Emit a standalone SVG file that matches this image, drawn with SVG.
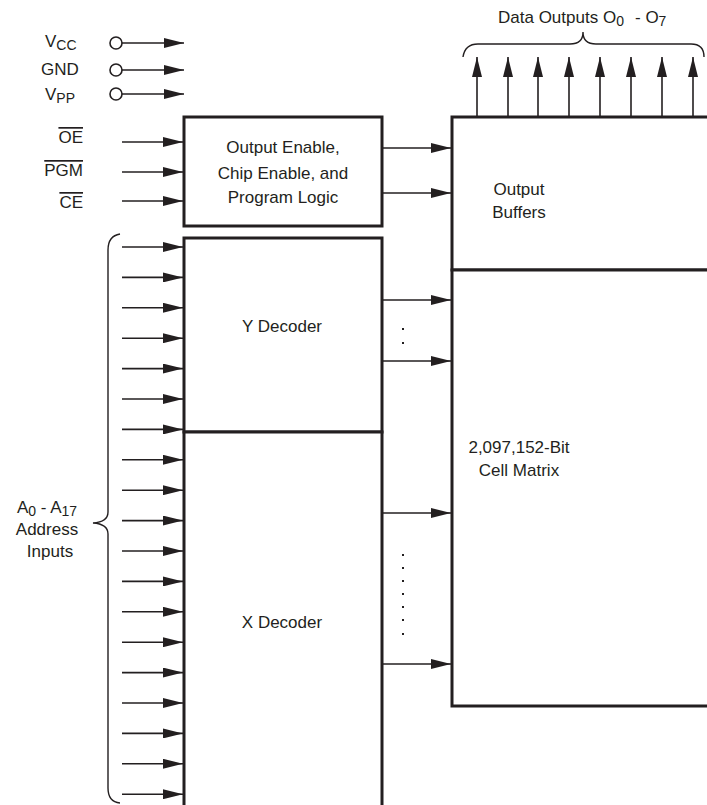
<svg xmlns="http://www.w3.org/2000/svg" width="707" height="805" viewBox="0 0 707 805">
<style>
text{font-family:"Liberation Sans",Arial,sans-serif;font-size:17px;fill:#231f20}
.sub{font-size:14px}
.c{text-anchor:middle}
.r{text-anchor:end}
.box{fill:#fff;stroke:#231f20;stroke-width:3}
.ln{stroke:#231f20;stroke-width:1.6;fill:none}
.br{stroke:#231f20;stroke-width:1.4;fill:none}
.ov{text-decoration:overline}
</style>
<defs>
<marker id="ah" viewBox="0 0 20 10" markerWidth="20" markerHeight="10" markerUnits="userSpaceOnUse" refX="20" refY="5" orient="auto">
<path d="M0,0 L20,5 L0,10 z" fill="#231f20"/>
</marker>
</defs>

<g id="labels-power">
<text x="45" y="47">V<tspan class="sub" dy="3">CC</tspan></text>
<text x="41" y="75">GND</text>
<text x="45" y="100">V<tspan class="sub" dy="3">PP</tspan></text>
<circle cx="116" cy="43" r="6" fill="#fff" stroke="#231f20" stroke-width="1.6"/>
<circle cx="116" cy="70" r="6" fill="#fff" stroke="#231f20" stroke-width="1.6"/>
<circle cx="116" cy="94" r="6" fill="#fff" stroke="#231f20" stroke-width="1.6"/>
</g>

<g id="labels-control">
<text class="r ov" x="83" y="143">OE</text>
<text class="r ov" x="83" y="176">PGM</text>
<text class="r ov" x="83" y="208">CE</text>
</g>

<g id="address-label">
<text class="c" x="47" y="513">A<tspan class="sub" dy="3">0</tspan><tspan dy="-3"> - A</tspan><tspan class="sub" dy="3">17</tspan></text>
<text class="c" x="47" y="535">Address</text>
<text class="c" x="50" y="557">Inputs</text>
<path class="br" d="M120,234 Q108,236 108,250 L108,512 Q108,522 93,523 Q108,524 108,534 L108,788 Q108,802 120,803"/>
</g>

<g id="data-label">
<text x="498" y="23">Data Outputs O<tspan class="sub" dy="3">0</tspan><tspan dy="-3" x="635">- O</tspan><tspan class="sub" dy="3">7</tspan></text>
<path class="br" d="M463,57 Q465,44 478,44 L570,44 Q583,44 583,32 Q583,44 596,44 L691,44 Q704,44 704,57"/>
</g>

<g id="logic">
<rect class="box" x="184" y="117" width="198" height="109"/>
<text class="c" x="283" y="153">Output Enable,</text>
<text class="c" x="283" y="179">Chip Enable, and</text>
<text class="c" x="283" y="203">Program Logic</text>
</g>

<g id="output-buffers">
<rect class="box" x="452" y="117" width="270" height="153"/>
<text class="c" x="519" y="195">Output</text>
<text class="c" x="519" y="218">Buffers</text>
</g>

<g id="cell-matrix">
<rect class="box" x="452" y="270" width="270" height="436"/>
<text class="c" x="519" y="453">2,097,152-Bit</text>
<text class="c" x="519" y="476">Cell Matrix</text>
</g>

<g id="y-decoder">
<rect class="box" x="184" y="238" width="198" height="194"/>
<text class="c" x="282" y="332">Y Decoder</text>
</g>

<g id="x-decoder">
<rect class="box" x="184" y="432" width="198" height="390"/>
<text class="c" x="282" y="628">X Decoder</text>
</g>

<g id="connectors">
<line class="ln" x1="122" y1="43" x2="184" y2="43" marker-end="url(#ah)"/>
<line class="ln" x1="122" y1="70" x2="184" y2="70" marker-end="url(#ah)"/>
<line class="ln" x1="122" y1="94" x2="184" y2="94" marker-end="url(#ah)"/>
<line class="ln" x1="122" y1="142" x2="183" y2="142" marker-end="url(#ah)"/>
<line class="ln" x1="122" y1="172" x2="183" y2="172" marker-end="url(#ah)"/>
<line class="ln" x1="122" y1="201" x2="183" y2="201" marker-end="url(#ah)"/>
<line class="ln" x1="383" y1="148" x2="451" y2="148" marker-end="url(#ah)"/>
<line class="ln" x1="383" y1="193" x2="451" y2="193" marker-end="url(#ah)"/>
<line class="ln" x1="383" y1="300" x2="451" y2="300" marker-end="url(#ah)"/>
<line class="ln" x1="383" y1="361" x2="451" y2="361" marker-end="url(#ah)"/>
<line class="ln" x1="383" y1="513" x2="451" y2="513" marker-end="url(#ah)"/>
<line class="ln" x1="383" y1="664" x2="451" y2="664" marker-end="url(#ah)"/>
<g fill="#231f20">
<rect x="402" y="328" width="2" height="2"/>
<rect x="402" y="342" width="2" height="2"/>
<rect x="402" y="554" width="2" height="2"/>
<rect x="402" y="567" width="2" height="2"/>
<rect x="402" y="580" width="2" height="2"/>
<rect x="402" y="593" width="2" height="2"/>
<rect x="402" y="606" width="2" height="2"/>
<rect x="402" y="619" width="2" height="2"/>
<rect x="402" y="633" width="2" height="2"/>
</g>
<line class="ln" x1="477" y1="116" x2="477" y2="57" marker-end="url(#ah)"/>
<line class="ln" x1="508" y1="116" x2="508" y2="57" marker-end="url(#ah)"/>
<line class="ln" x1="538" y1="116" x2="538" y2="57" marker-end="url(#ah)"/>
<line class="ln" x1="569" y1="116" x2="569" y2="57" marker-end="url(#ah)"/>
<line class="ln" x1="600" y1="116" x2="600" y2="57" marker-end="url(#ah)"/>
<line class="ln" x1="631" y1="116" x2="631" y2="57" marker-end="url(#ah)"/>
<line class="ln" x1="662" y1="116" x2="662" y2="57" marker-end="url(#ah)"/>
<line class="ln" x1="693" y1="116" x2="693" y2="57" marker-end="url(#ah)"/>
<line class="ln" x1="122" y1="247" x2="183" y2="247" marker-end="url(#ah)"/>
<line class="ln" x1="122" y1="277.4" x2="183" y2="277.4" marker-end="url(#ah)"/>
<line class="ln" x1="122" y1="307.8" x2="183" y2="307.8" marker-end="url(#ah)"/>
<line class="ln" x1="122" y1="338.2" x2="183" y2="338.2" marker-end="url(#ah)"/>
<line class="ln" x1="122" y1="368.6" x2="183" y2="368.6" marker-end="url(#ah)"/>
<line class="ln" x1="122" y1="399" x2="183" y2="399" marker-end="url(#ah)"/>
<line class="ln" x1="122" y1="429.4" x2="183" y2="429.4" marker-end="url(#ah)"/>
<line class="ln" x1="122" y1="459.8" x2="183" y2="459.8" marker-end="url(#ah)"/>
<line class="ln" x1="122" y1="490.2" x2="183" y2="490.2" marker-end="url(#ah)"/>
<line class="ln" x1="122" y1="520.6" x2="183" y2="520.6" marker-end="url(#ah)"/>
<line class="ln" x1="122" y1="551" x2="183" y2="551" marker-end="url(#ah)"/>
<line class="ln" x1="122" y1="581.4" x2="183" y2="581.4" marker-end="url(#ah)"/>
<line class="ln" x1="122" y1="611.8" x2="183" y2="611.8" marker-end="url(#ah)"/>
<line class="ln" x1="122" y1="642.2" x2="183" y2="642.2" marker-end="url(#ah)"/>
<line class="ln" x1="122" y1="672.6" x2="183" y2="672.6" marker-end="url(#ah)"/>
<line class="ln" x1="122" y1="703" x2="183" y2="703" marker-end="url(#ah)"/>
<line class="ln" x1="122" y1="733.4" x2="183" y2="733.4" marker-end="url(#ah)"/>
<line class="ln" x1="122" y1="763.8" x2="183" y2="763.8" marker-end="url(#ah)"/>
<line class="ln" x1="122" y1="794.2" x2="183" y2="794.2" marker-end="url(#ah)"/>
</g>
</svg>
